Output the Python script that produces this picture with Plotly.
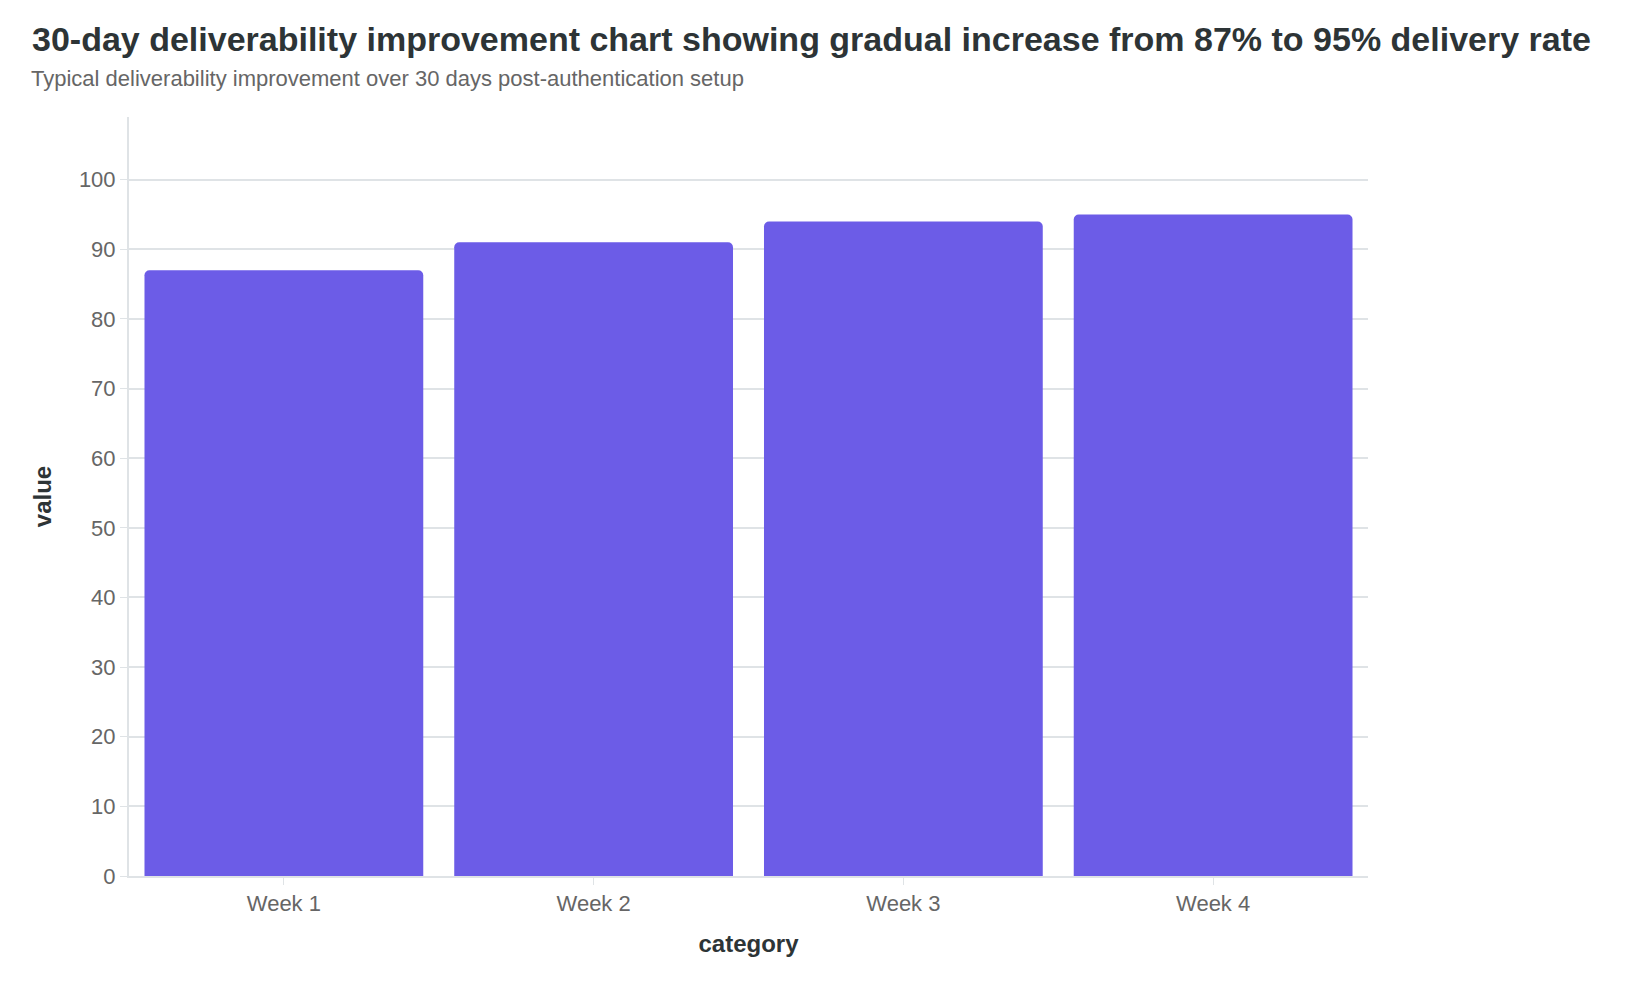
import plotly.graph_objects as go

categories = ["Week 1", "Week 2", "Week 3", "Week 4"]
delivery_rate = [87, 91, 94, 95]

title_text = "30-day deliverability improvement chart showing gradual increase from 87% to 95% delivery rate"
subtitle_text = "Typical deliverability improvement over 30 days post-authentication setup"

W, H = 1642, 984
L, R, T, B = 121, 282, 109, 116
plot_w = W - L - R
plot_h = H - T - B

fig = go.Figure()
fig.add_trace(go.Bar(x=categories, y=delivery_rate, marker=dict(color="#6c5ce7", line_width=0),
                     name="value"))

fig.update_layout(
    width=W, height=H,
    paper_bgcolor="white", plot_bgcolor="white",
    font=dict(family="Liberation Sans, Arial, sans-serif", color="#666666"),
    margin=dict(l=L, r=R, t=T, b=B),
    bargap=0.1, barcornerradius=5, showlegend=False,
    title=dict(
        text=f"<b>{title_text}</b>",
        x=24 / W, xanchor="left", y=1 - 31 / H, yanchor="middle",
        font=dict(size=34, color="#2d3436"),
    ),
)
# subtitle
fig.add_annotation(
    text=subtitle_text, showarrow=False,
    xref="paper", yref="paper", x=(21 - L) / plot_w, y=1 + (T - 71) / plot_h,
    xanchor="left", yanchor="middle",
    font=dict(size=22, color="#666666"),
)
fig.update_xaxes(
    title=dict(text="<b>category</b>", font=dict(size=24, color="#2d3436"), standoff=20),
    tickfont=dict(size=22, color="#666666"),
    showline=True, linecolor="#dfe3e6", linewidth=2,
    ticks="outside", ticklen=7, tickcolor="#dfe3e6", showgrid=False,
)
fig.update_yaxes(
    title=dict(text="<b>value</b>", font=dict(size=24, color="#2d3436"), standoff=20),
    tickfont=dict(size=22, color="#666666"),
    range=[0, 109], dtick=10,
    showline=True, linecolor="#dfe3e6", linewidth=2,
    ticks="outside", ticklen=7, tickcolor="#dfe3e6",
    showgrid=True, gridcolor="#dfe3e6", gridwidth=1.5, zeroline=False,
)

fig.write_html("out.html")
